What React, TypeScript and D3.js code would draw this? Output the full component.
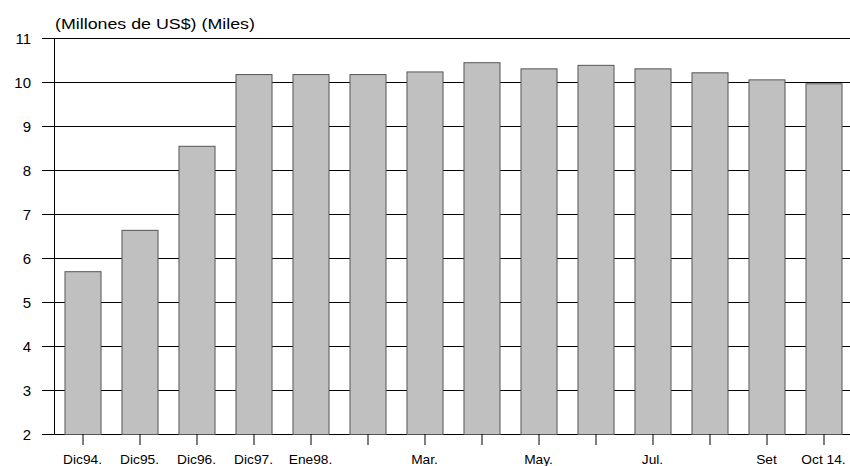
import { useEffect, useRef } from "react";
import * as d3 from "d3";

// Monthly values (Millones de US$, miles)
const categories = [
  "Dic94", "Dic95", "Dic96", "Dic97", "Ene98", "Feb98", "Mar98",
  "Abr98", "May98", "Jun98", "Jul98", "Ago98", "Set98", "Oct98",
];
const values = [5.7, 6.64, 8.55, 10.18, 10.18, 10.18, 10.24, 10.45, 10.31, 10.39, 10.31, 10.22, 10.06, 9.97];
const tickLabels = [
  "Dic94.", "Dic95.", "Dic96.", "Dic97.", "Ene98.", "", "Mar.",
  "", "May.", "", "Jul.", "", "Set", "Oct 14.",
];
const yTicks = [2, 3, 4, 5, 6, 7, 8, 9, 10, 11];

export default function App() {
  const svgRef = useRef<SVGSVGElement>(null);

  useEffect(() => {
    if (!svgRef.current) return;
    const width = 850;
    const height = 466;
    const margin = { top: 38, right: -2, bottom: 32, left: 54 };

    const svg = d3.select(svgRef.current);
    svg.selectAll("*").remove();
    svg.attr("width", width).attr("height", height);

    const x = d3
      .scaleBand<string>()
      .domain(categories)
      .range([margin.left, width - margin.right])
      .paddingInner(0.368)
      .paddingOuter(0.184);

    const y = d3
      .scaleLinear()
      .domain([2, 11])
      .range([height - margin.bottom, margin.top]);

    const font = "'Liberation Sans', Arial, sans-serif";

    // horizontal grid lines
    svg
      .append("g")
      .selectAll("line")
      .data(yTicks)
      .join("line")
      .attr("x1", margin.left - 12)
      .attr("x2", width)
      .attr("y1", (d) => y(d) + 0.5)
      .attr("y2", (d) => y(d) + 0.5)
      .attr("stroke", "#000")
      .attr("stroke-width", 1);

    // left axis line
    svg
      .append("line")
      .attr("x1", margin.left + 0.5)
      .attr("x2", margin.left + 0.5)
      .attr("y1", y(11))
      .attr("y2", y(2))
      .attr("stroke", "#000");

    // y labels
    svg
      .append("g")
      .selectAll("text")
      .data(yTicks)
      .join("text")
      .attr("x", 31)
      .attr("y", (d) => y(d) + 5.5)
      .attr("text-anchor", "end")
      .attr("font-family", font)
      .attr("font-size", 15)
      .attr("fill", "#000")
      .text((d) => d);

    // bars
    svg
      .append("g")
      .selectAll("rect")
      .data(values)
      .join("rect")
      .attr("x", (_, i) => x(categories[i])! + 0.5)
      .attr("y", (d) => y(d) + 0.5)
      .attr("width", x.bandwidth())
      .attr("height", (d) => y(2) - y(d))
      .attr("fill", "#c0c0c0")
      .attr("stroke", "#555")
      .attr("stroke-width", 1);

    // x ticks
    svg
      .append("g")
      .selectAll("line")
      .data(categories)
      .join("line")
      .attr("x1", (d) => x(d)! + x.bandwidth() / 2 + 0.5)
      .attr("x2", (d) => x(d)! + x.bandwidth() / 2 + 0.5)
      .attr("y1", y(2))
      .attr("y2", y(2) + 11)
      .attr("stroke", "#000");

    // x labels
    svg
      .append("g")
      .selectAll("text")
      .data(categories)
      .join("text")
      .attr(
        "transform",
        (d) => `translate(${x(d)! + x.bandwidth() / 2},${height - 2}) scale(1.1,1)`
      )
      .attr("text-anchor", "middle")
      .attr("font-family", font)
      .attr("font-size", 12.5)
      .attr("fill", "#000")
      .text((_, i) => tickLabels[i]);

    // title
    svg
      .append("text")
      .attr("transform", `translate(${margin.left + 1},29) scale(1.15,1)`)
      .attr("font-family", font)
      .attr("font-size", 15.5)
      .attr("fill", "#000")
      .text("(Millones de US$) (Miles)");
  }, []);

  return (
    <div style={{ position: "absolute", left: 0, top: 0 }}>
      <svg ref={svgRef} style={{ display: "block" }}></svg>
    </div>
  );
}
